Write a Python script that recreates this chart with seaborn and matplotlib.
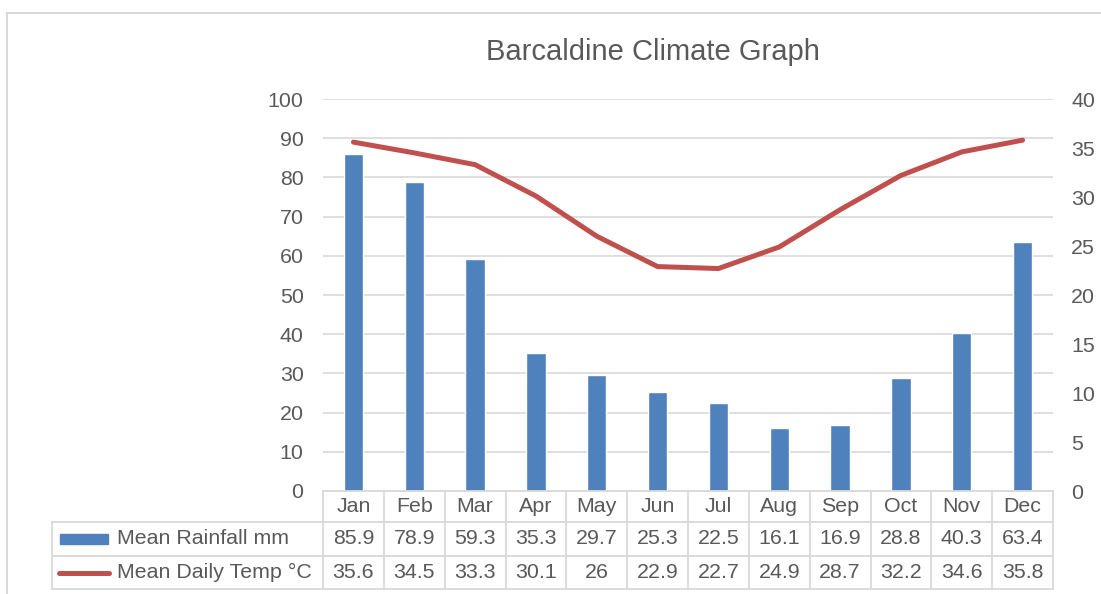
import numpy as np
import matplotlib
matplotlib.use("Agg")
import matplotlib.pyplot as plt
import seaborn as sns
from matplotlib.lines import Line2D
from matplotlib.patches import Rectangle

months = ["Jan", "Feb", "Mar", "Apr", "May", "Jun", "Jul", "Aug", "Sep", "Oct", "Nov", "Dec"]
rainfall = [85.9, 78.9, 59.3, 35.3, 29.7, 25.3, 22.5, 16.1, 16.9, 28.8, 40.3, 63.4]
temp = [35.6, 34.5, 33.3, 30.1, 26, 22.9, 22.7, 24.9, 28.7, 32.2, 34.6, 35.8]
rain_labels = ["85.9", "78.9", "59.3", "35.3", "29.7", "25.3", "22.5", "16.1", "16.9", "28.8", "40.3", "63.4"]
temp_labels = ["35.6", "34.5", "33.3", "30.1", "26", "22.9", "22.7", "24.9", "28.7", "32.2", "34.6", "35.8"]
series_names = ["Mean Rainfall mm", "Mean Daily Temp °C"]
title = "Barcaldine Climate Graph"

BLUE = "#4f81bd"
RED = "#c0504d"
TXT = "#595959"
GRID = "#d9d9d9"
FS = 15.4

sns.set_theme(style="white")
plt.rcParams["font.family"] = ["Liberation Sans", "DejaVu Sans"]

W, H = 1101, 594
fig = plt.figure(figsize=(W / 100, H / 100), dpi=100)
L, R, T, B = 323, 1053, 99, 491
ax = fig.add_axes([L / W, (H - B) / H, (R - L) / W, (B - T) / H])

x = np.arange(len(months))
sns.barplot(x=x, y=rainfall, ax=ax, color=BLUE, width=0.32, saturation=1, native_scale=True)
ax.set_xlim(-0.5, len(months) - 0.5)
ax.set_ylim(0, 100)
ax.set_yticks(np.arange(0, 101, 10))
ax.yaxis.grid(True, color=GRID, linewidth=1.2)
ax.set_axisbelow(True)
ax.set_xticks([])
for s in ax.spines.values():
    s.set_visible(False)
ax.tick_params(axis="y", labelsize=FS, colors=TXT, length=0, pad=14)
ax.set_xlabel("")
ax.set_ylabel("")

ax2 = ax.twinx()
sns.lineplot(x=x, y=temp, ax=ax2, color=RED, linewidth=3.6, solid_capstyle="round")
ax2.set_ylim(0, 40)
ax2.set_yticks(np.arange(0, 41, 5))
ax2.set_xlim(-0.5, len(months) - 0.5)
for s in ax2.spines.values():
    s.set_visible(False)
ax2.tick_params(axis="y", labelsize=FS, colors=TXT, length=0, pad=13)
ax2.set_ylabel("")
ax2.set_xticks([])

fig.text(653 / W, 1 - 52 / H, title, ha="center", va="center", fontsize=21, color=TXT)

# data table
def fy(py):
    return 1 - py / H

def fx(px):
    return px / W

row_y = [491, 522, 556, 589]
col_x = [ax.transData.transform((i - 0.5, 0))[0] for i in range(len(months) + 1)]
col_fx = [c / W for c in col_x]
lab_left = 52
lw = 1.3
def hline(x0, x1, y):
    fig.add_artist(Line2D([fx(x0), fx(x1)], [fy(y), fy(y)], color=GRID, lw=lw))
def vline(xf, y0, y1):
    fig.add_artist(Line2D([xf, xf], [fy(y0), fy(y1)], color=GRID, lw=lw))

hline(L, R, row_y[0])
for y in row_y[1:]:
    hline(lab_left, R, y)
for cf in col_fx:
    vline(cf, row_y[0], row_y[3])
vline(fx(lab_left), row_y[1], row_y[3])

for i, m in enumerate(months):
    cx = (col_fx[i] + col_fx[i + 1]) / 2
    fig.text(cx, fy((row_y[0] + row_y[1]) / 2), m, ha="center", va="center", fontsize=FS, color=TXT)
    fig.text(cx, fy((row_y[1] + row_y[2]) / 2), rain_labels[i], ha="center", va="center", fontsize=FS, color=TXT)
    fig.text(cx, fy((row_y[2] + row_y[3]) / 2), temp_labels[i], ha="center", va="center", fontsize=FS, color=TXT)

r1c = (row_y[1] + row_y[2]) / 2
r2c = (row_y[2] + row_y[3]) / 2
fig.add_artist(Rectangle((fx(60), fy(r1c + 5)), fx(108) - fx(60), fy(r1c - 5) - fy(r1c + 5),
                         color=BLUE, transform=fig.transFigure))
fig.add_artist(Line2D([fx(59), fx(109)], [fy(r2c), fy(r2c)], color=RED, lw=3.6, solid_capstyle="round"))
fig.text(fx(117), fy(r1c), series_names[0], ha="left", va="center", fontsize=FS, color=TXT)
fig.text(fx(117), fy(r2c), series_names[1], ha="left", va="center", fontsize=FS, color=TXT)

# outer chart border
fig.add_artist(Line2D([fx(7), fx(W)], [fy(13), fy(13)], color=GRID, lw=1.5))
fig.add_artist(Line2D([fx(7), fx(7)], [fy(13), fy(H)], color=GRID, lw=1.5))

fig.savefig("out.png", dpi=100)
